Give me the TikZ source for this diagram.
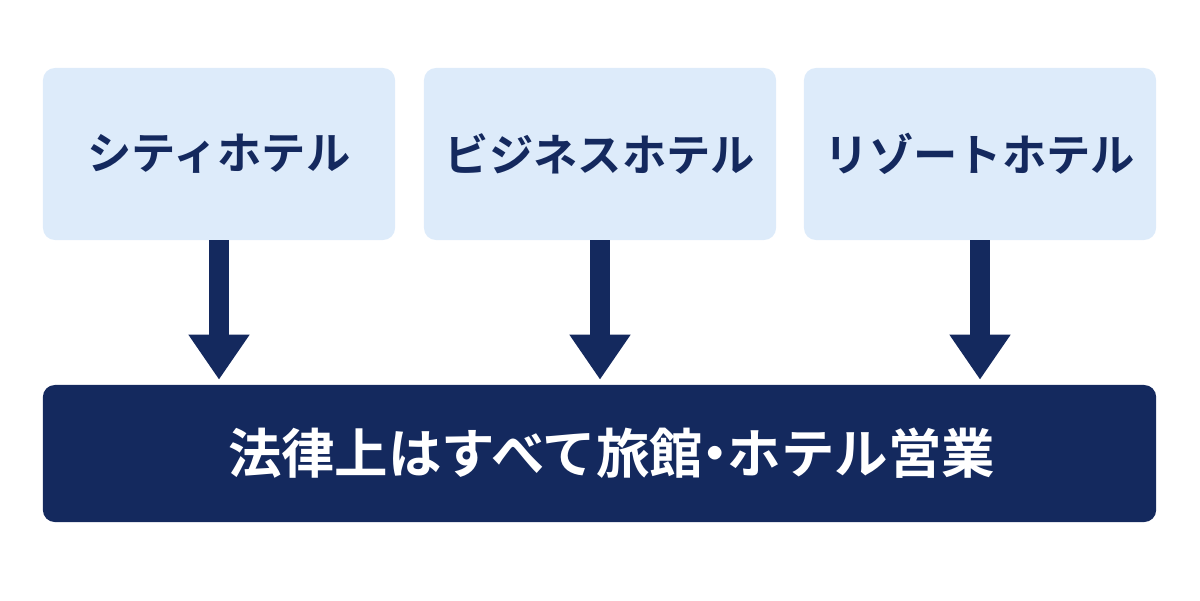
\documentclass[tikz,border=0pt]{standalone}
\usepackage{fontspec}
\newfontfamily\cjk{Noto Sans CJK JP}[BoldFont={* Bold}]
\usetikzlibrary{arrows.meta}
\definecolor{lightbox}{HTML}{DDEBFA}
\definecolor{navy}{HTML}{14295E}
\begin{document}
\begin{tikzpicture}[x=0.025cm,y=-0.025cm,
  top/.style={fill=lightbox,draw=none,rounded corners=0.3cm,minimum width=8.8cm,minimum height=4.3cm,text=navy,font=\cjk\bfseries\fontsize{31.5}{36}\selectfont},
  main/.style={fill=navy,draw=none,rounded corners=0.3cm,minimum width=27.825cm,minimum height=3.425cm,text=white,font=\cjk\bfseries\fontsize{38}{44}\selectfont},
  arr/.style={navy,line width=0.5cm,shorten >=5*0.025cm,-{Triangle[width=1.45cm,length=1.125cm]}}]
\useasboundingbox (0,0) rectangle (1200,600);
\node[top] (a) at (219,154) {シティホテル};
\node[top] (b) at (600,154) {ビジネスホテル};
\node[top] (c) at (980,154) {リゾートホテル};
\node[main] (m) at (599.5,453.5) {\hspace{0.6cm}法律上はすべて旅館\hspace{-0.27em}・\hspace{-0.27em}ホテル営業};
\foreach \n in {a,b,c}{\draw[arr] (\n.south) -- (\n.south |- m.north);}
\end{tikzpicture}
\end{document}
